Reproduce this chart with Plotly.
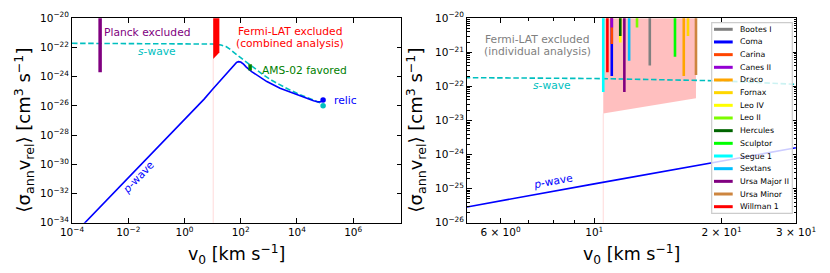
import plotly.graph_objects as go

W, H = 830, 273
FONT = "DejaVu Sans"

# ---------------- data ----------------
s_v = [1e-4, 1, 5, 10, 20, 30, 40, 56, 72, 126, 214, 400, 645, 1260, 2500, 5000, 1e4, 2e4, 3.9e4, 6.3e4, 7.6e4]
s_sig = [1.91e-22, 1.86e-22, 1.80e-22, 1.70e-22, 1.45e-22, 1.15e-22, 7.9e-23, 5.0e-23, 3.2e-23, 1.4e-23,
         6.3e-24, 2.5e-24, 1.3e-24, 5.6e-25, 2.7e-25, 1.35e-25, 7.2e-26, 4.2e-26, 2.8e-26, 1.7e-26, 1.35e-26]

p_v = [1e-4, 1e-2, 1, 2.1, 5, 10, 20, 30, 42, 56, 71, 83, 100, 126, 158, 245, 447, 851, 2500, 1e4, 2e4,
       3.9e4, 5.6e4, 7.1e4, 8.5e4]
p_sig = [1.2e-35, 1.2e-31, 1.2e-27, 5.2e-27, 2.9e-26, 1.38e-25, 6.3e-25, 1.55e-24, 3.2e-24, 6.3e-24, 9.3e-24,
         1.07e-23, 1.0e-23, 7.1e-24, 4.5e-24, 2.2e-24, 1.0e-24, 4.6e-25, 1.6e-25, 5.6e-26, 3.4e-26,
         2.2e-26, 1.86e-26, 1.95e-26, 2.5e-26]

relic_v = 8.5e4
relic_p = 2.5e-26
relic_s = 1.0e-26

planck_v = 1e-3
planck_sig = [2e-24, 1e-20]

ams_v = 216
ams_sig = [2.6e-24, 7e-24]

fermi_v = [10.5, 17.4]
fermi_top = 1e-20
fermi_bottom = [1.6e-23, 4.5e-23]

dwarf_names = ["Bootes I", "Coma", "Carina", "Canes II", "Draco", "Fornax", "Leo IV", "Leo II", "Hercules",
               "Sculptor", "Segue 1", "Sextans", "Ursa Major II", "Ursa Minor", "Willman 1"]
dwarf_v = [13.53, 11.0, 11.0, 11.0, 16.28, 16.66, 11.52, 12.62, 11.52, 15.52, 10.50, 12.09, 11.78, 17.4, 10.74]
dwarf_lim = [4.1e-22, 2.0e-22, 1.74e-21, 5.3e-21, 2.0e-22, 3.0e-21, 1.95e-21, 5.3e-21, 3.0e-21, 7.4e-22,
             6.8e-23, 5.6e-22, 6.8e-23, 2.15e-22, 2.6e-22]
dwarf_colors = ["#808080", "#0000FF", "#FF4500", "#9400D3", "#FFA500", "#FFD700", "#FFFF00", "#7CFC00",
                "#006400", "#00FF00", "#00FFFF", "#00BFFF", "#800080", "#CD853F", "#FF0000"]

left_xticks = [1e-4, 1e-2, 1, 1e2, 1e4, 1e6]
left_xtext = ["10<sup>−4</sup>", "10<sup>−2</sup>", "10<sup>0</sup>", "10<sup>2</sup>", "10<sup>4</sup>", "10<sup>6</sup>"]
left_yticks = [1e-20, 1e-22, 1e-24, 1e-26, 1e-28, 1e-30, 1e-32, 1e-34]
left_ytext = ["10<sup>−20</sup>", "10<sup>−22</sup>", "10<sup>−24</sup>", "10<sup>−26</sup>",
              "10<sup>−28</sup>", "10<sup>−30</sup>", "10<sup>−32</sup>", "10<sup>−34</sup>"]
right_xticks = [6, 10, 20, 30]
right_xtext = ["6 × 10<sup>0</sup>", "10<sup>1</sup>", "2 × 10<sup>1</sup>", "3 × 10<sup>1</sup>"]
right_xminor = [5, 7, 8, 9]
right_yticks = [1e-20, 1e-21, 1e-22, 1e-23, 1e-24, 1e-25, 1e-26]
right_ytext = ["10<sup>−20</sup>", "10<sup>−21</sup>", "10<sup>−22</sup>", "10<sup>−23</sup>",
               "10<sup>−24</sup>", "10<sup>−25</sup>", "10<sup>−26</sup>"]
right_yminor = [k * 10.0 ** e for e in range(-26, -20) for k in range(2, 10)]

# ---------------- layout geometry (pixels) ----------------
LX0, LX1 = 72, 401
RX0, RX1 = 467, 796
YT, YB = 18.2, 222.7


def px(x):
    return x / W


def py(y):
    return 1 - y / H


CYAN = "#00BFBF"
BLUE = "#0000FF"

fig = go.Figure()

for xa, ya in (("x", "y"), ("x2", "y2")):
    right = xa == "x2"
    if right:
        fig.add_trace(go.Scatter(x=[fermi_v[0], fermi_v[1], fermi_v[1], fermi_v[0], fermi_v[0]],
                                 y=[fermi_top, fermi_top, fermi_bottom[1], fermi_bottom[0], fermi_top],
                                 fill="toself", fillcolor="rgba(255,0,0,0.25)", mode="lines",
                                 line=dict(width=0), xaxis=xa, yaxis=ya, showlegend=False, hoverinfo="skip"))
    fig.add_trace(go.Scatter(x=[fermi_v[0], fermi_v[0]], y=[1e-40, fermi_bottom[0]], mode="lines",
                             line=dict(color="rgba(255,0,0,0.15)", width=1), xaxis=xa, yaxis=ya,
                             showlegend=False, hoverinfo="skip"))
    fig.add_trace(go.Scatter(x=s_v, y=s_sig, mode="lines", line=dict(color=CYAN, width=1.6, dash="5.5px,2.6px"),
                             xaxis=xa, yaxis=ya, showlegend=False, hoverinfo="skip"))
    fig.add_trace(go.Scatter(x=p_v, y=p_sig, mode="lines", line=dict(color=BLUE, width=1.6),
                             xaxis=xa, yaxis=ya, showlegend=False, hoverinfo="skip"))

fig.add_trace(go.Scatter(x=[fermi_v[0], fermi_v[1], fermi_v[1], fermi_v[0], fermi_v[0]],
                         y=[fermi_top * 10, fermi_top * 10, fermi_bottom[1], fermi_bottom[0], fermi_top * 10],
                         fill="toself", fillcolor="#FF0000", mode="lines", line=dict(width=0, color="#FF0000"),
                         xaxis="x", yaxis="y", showlegend=False, hoverinfo="skip"))
fig.add_trace(go.Scatter(x=[planck_v, planck_v], y=[planck_sig[0], planck_sig[1] * 10], mode="lines",
                         line=dict(color="#800080", width=3.5), xaxis="x", yaxis="y", showlegend=False))
fig.add_trace(go.Scatter(x=[ams_v, ams_v], y=ams_sig, mode="lines",
                         line=dict(color="#008000", width=3.5), xaxis="x", yaxis="y", showlegend=False))
fig.add_trace(go.Scatter(x=[relic_v, relic_v], y=[relic_p, relic_s], mode="markers",
                         marker=dict(color=[BLUE, CYAN], size=5.5), xaxis="x", yaxis="y", showlegend=False))

for name, v, lim, c in zip(dwarf_names, dwarf_v, dwarf_lim, dwarf_colors):
    fig.add_trace(go.Scatter(x=[v, v], y=[lim, 1e-19], mode="lines", line=dict(color=c, width=2.6),
                             xaxis="x2", yaxis="y2", name=name, showlegend=False, hoverinfo="skip"))

axcommon = dict(type="log", showgrid=False, zeroline=False, showline=True, linecolor="black", linewidth=1,
                mirror="ticks", ticks="inside", ticklen=4.5, tickwidth=1, tickcolor="black",
                tickfont=dict(family=FONT, size=10.5, color="black"), automargin=False)

fig.update_layout(
    width=W, height=H, margin=dict(l=0, r=0, t=0, b=0),
    paper_bgcolor="white", plot_bgcolor="white", showlegend=False,
    font=dict(family=FONT, color="black"),
    xaxis=dict(axcommon, domain=[px(LX0), px(LX1)], range=[-4, 7.7], anchor="y",
               tickmode="array", tickvals=left_xticks, ticktext=left_xtext),
    yaxis=dict(axcommon, domain=[py(YB), py(YT)], range=[-34, -20], anchor="x",
               tickmode="array", tickvals=left_yticks, ticktext=left_ytext),
    xaxis2=dict(axcommon, domain=[px(RX0), px(RX1)], range=[0.69897, 1.4771], anchor="y2",
                tickmode="array", tickvals=right_xticks, ticktext=right_xtext,
                minor=dict(ticks="inside", ticklen=2.5, tickvals=right_xminor, tickcolor="black", showgrid=False)),
    yaxis2=dict(axcommon, domain=[py(YB), py(YT)], range=[-26, -20], anchor="x2",
                tickmode="array", tickvals=right_yticks, ticktext=right_ytext,
                minor=dict(ticks="inside", ticklen=2.5, tickvals=right_yminor, tickcolor="black", showgrid=False)),
)

ann = []


def text(x, y, t, color="black", size=10.7, xanchor="center", angle=0):
    ann.append(dict(x=px(x), y=py(y), xref="paper", yref="paper", text=t, showarrow=False,
                    font=dict(family=FONT, size=size, color=color), xanchor=xanchor, yanchor="middle",
                    textangle=angle))


text(102, 32.3, "Planck excluded", "#800080", xanchor="left")
text(156.5, 51, "<i>s</i>-wave", CYAN)
text(290, 31, "Fermi-LAT excluded", "#FF0000")
text(290, 43.5, "(combined analysis)", "#FF0000")
text(260, 70, "AMS-02 favored", "#008000", xanchor="left")
text(332, 100.7, "relic", BLUE, xanchor="left")
text(138, 177, "<i>p</i>-wave", BLUE, angle=-46)
text(536.5, 39.3, "Fermi-LAT excluded", "#808080")
text(537, 51.7, "(individual analysis)", "#808080")
text(551.7, 85.7, "<i>s</i>-wave", CYAN)
text(552.5, 181.7, "<i>p</i>-wave", BLUE, angle=-10.5)

xtitle = "v<sub>0</sub> [km s<sup>−1</sup>]"
ytitle = "⟨σ<sub>ann</sub>v<sub>rel</sub>⟩ [cm<sup>3</sup> s<sup>−1</sup>]"
text((LX0 + LX1) / 2, 254, xtitle, size=17.5)
text((RX0 + RX1) / 2, 254, xtitle, size=17.5)
text(24, (YT + YB) / 2 + 10, ytitle, size=18, angle=-90)
text(416, (YT + YB) / 2 + 10, ytitle, size=18, angle=-90)

shapes = []
LGX0, LGX1, LGY0, LGY1 = 711.7, 792.3, 22.7, 213.3
shapes.append(dict(type="rect", xref="paper", yref="paper", x0=px(LGX0), x1=px(LGX1), y0=py(LGY1), y1=py(LGY0),
                   line=dict(color="#CCCCCC", width=1.2), fillcolor="rgba(255,255,255,0.8)", layer="above"))
for i, (name, c) in enumerate(zip(dwarf_names, dwarf_colors)):
    yy = 29.3 + i * 12.67
    shapes.append(dict(type="line", xref="paper", yref="paper", x0=px(714), x1=px(732.7), y0=py(yy), y1=py(yy),
                       line=dict(color=c, width=3), layer="above"))
    text(738.3, yy, name, "black", size=7.8, xanchor="left")

fig.update_layout(annotations=ann, shapes=shapes)
fig.write_html("out.html", config={"displayModeBar": False},
               post_script="document.body.style.margin='0px';document.body.style.overflow='hidden';")
